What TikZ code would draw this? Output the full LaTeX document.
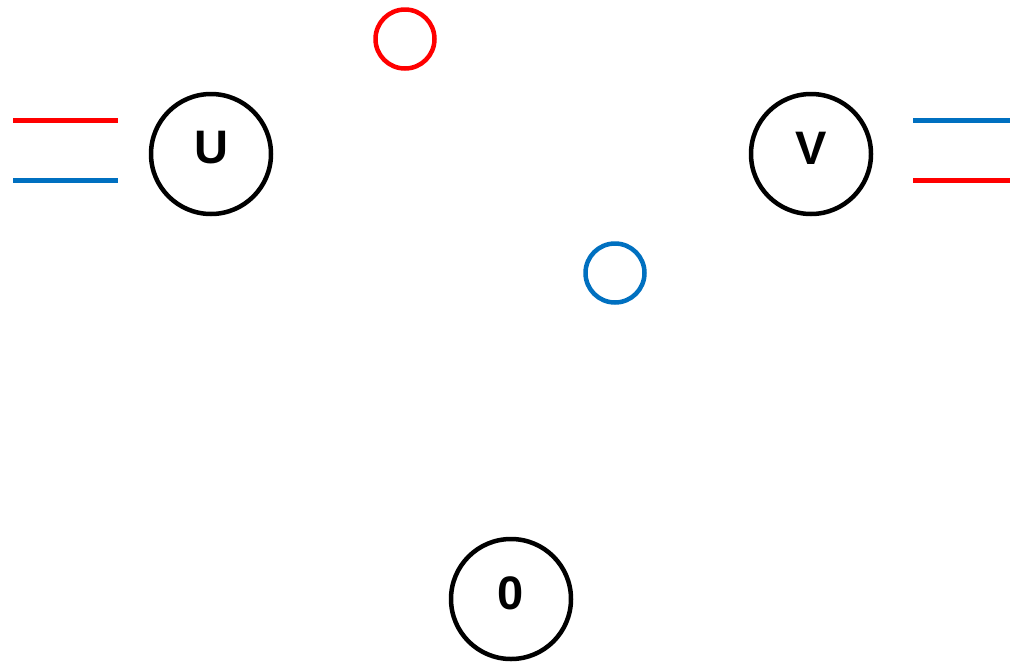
\documentclass[tikz,border=0pt]{standalone}
\usepackage{fontspec}
\setmainfont{Liberation Sans}
\definecolor{myred}{HTML}{FF0000}
\definecolor{myblue}{HTML}{0070C0}
\begin{document}
\begin{tikzpicture}[x=1pt,y=-1pt,
  bigc/.style={circle, draw=black, line width=4.5pt, minimum size=120pt, inner sep=0pt},
  smallc/.style={circle, line width=4.5pt, minimum size=59pt, inner sep=0pt},
  lbl/.style={font=\fontsize{47}{47}\selectfont\bfseries, inner sep=0pt},
  wire/.style={line width=5pt}]
\useasboundingbox[fill=white] (0,0) rectangle (1010,662);
\node[bigc] (U) at (211,154) {};
\node[lbl] (Ut) at ([yshift=6pt]U.center) {U};
\node[bigc] (V) at (811,154) {};
\node[lbl] (Vt) at ([yshift=6pt]V.center) {V};
\node[bigc] (Z) at (511,599) {};
\node[lbl] (Zt) at ([yshift=6pt]Z.center) {0};
\node[smallc, draw=myred] (R) at (405,39) {};
\node[smallc, draw=myblue] (B) at (615,273) {};
\coordinate (l1a) at (13,120); \coordinate (l1b) at (118,120);
\coordinate (l2a) at (13,180); \coordinate (l2b) at (118,180);
\coordinate (r1a) at (913,120); \coordinate (r1b) at (1010,120);
\coordinate (r2a) at (913,180); \coordinate (r2b) at (1010,180);
\draw[wire, myred] (l1a) -- (l1b);
\draw[wire, myblue] (l2a) -- (l2b);
\draw[wire, myblue] (r1a) -- (r1b);
\draw[wire, myred] (r2a) -- (r2b);
\end{tikzpicture}
\end{document}
